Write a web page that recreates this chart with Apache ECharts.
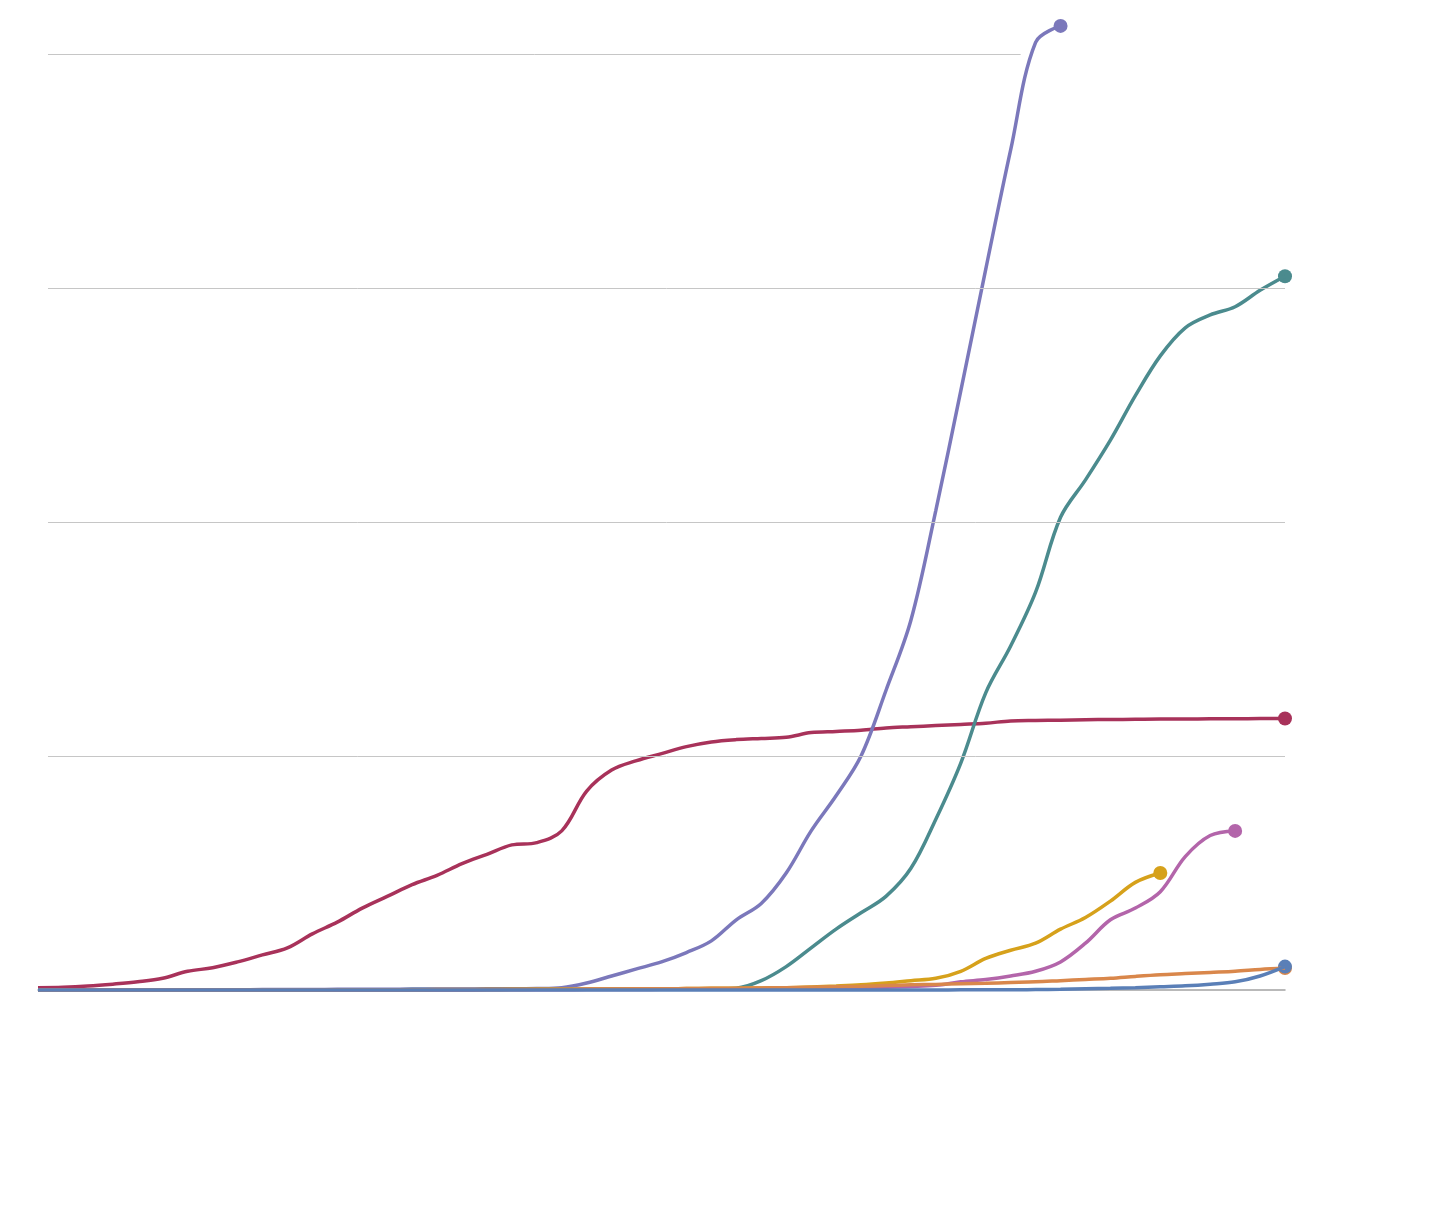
<!DOCTYPE html>
<html>
<head>
<meta charset="utf-8">
<title>Cumulative curves</title>
<script src="https://cdn.jsdelivr.net/npm/echarts@6/dist/echarts.min.js"></script>
<style>
  html, body { margin: 0; padding: 0; background: #fff; }
  #chart { width: 1440px; height: 1232px; }
</style>
</head>
<body>
<div id="chart"></div>
<script>
// x positions: 51 equally spaced steps
var steps = [];
for (var s = 0; s <= 50; s++) steps.push(s);

// gridline levels (y units) and where each one stops
var gridLevels = [1, 2, 3, 4];
var gridEnds = [50, 50, 50, 39.4];

var crimson = [0.01, 0.012, 0.017, 0.025, 0.035, 0.05, 0.08, 0.095, 0.12, 0.15,
  0.18, 0.24, 0.29, 0.35, 0.40, 0.45, 0.49, 0.54, 0.58, 0.62,
  0.63, 0.68, 0.85, 0.94, 0.98, 1.01, 1.04, 1.06, 1.07, 1.075,
  1.08, 1.10, 1.105, 1.11, 1.12, 1.125, 1.13, 1.135, 1.14, 1.15,
  1.152, 1.153, 1.155, 1.156, 1.157, 1.158, 1.158, 1.159, 1.159, 1.16, 1.16];

var purple = [0, 0, 0, 0, 0, 0, 0.001, 0.001, 0.001, 0.002,
  0.002, 0.002, 0.003, 0.003, 0.003, 0.004, 0.004, 0.004, 0.005, 0.005,
  0.006, 0.01, 0.03, 0.06, 0.09, 0.12, 0.16, 0.21, 0.30, 0.37,
  0.50, 0.68, 0.83, 1.0, 1.28, 1.58, 2.05, 2.56, 3.08, 3.59,
  4.05, 4.12, null, null, null, null, null, null, null, null, null];

var teal = [0, 0, 0, 0, 0, 0, 0, 0, 0, 0,
  0, 0.001, 0.001, 0.001, 0.001, 0.002, 0.002, 0.002, 0.002, 0.003,
  0.003, 0.003, 0.003, 0.004, 0.004, 0.004, 0.004, 0.005, 0.008, 0.04,
  0.10, 0.18, 0.26, 0.33, 0.40, 0.52, 0.73, 0.97, 1.27, 1.47,
  1.70, 2.02, 2.18, 2.35, 2.54, 2.71, 2.83, 2.885, 2.92, 2.99, 3.05];

var pink = [0, 0, 0, 0, 0, 0, 0, 0, 0, 0,
  0, 0, 0, 0, 0, 0, 0, 0, 0.001, 0.001,
  0.001, 0.001, 0.002, 0.002, 0.002, 0.003, 0.003, 0.004, 0.004, 0.005,
  0.006, 0.007, 0.008, 0.01, 0.012, 0.015, 0.02, 0.035, 0.045, 0.06,
  0.08, 0.12, 0.20, 0.30, 0.35, 0.42, 0.57, 0.66, 0.68, null, null];

var gold = [0, 0, 0, 0, 0, 0, 0, 0, 0, 0,
  0, 0, 0, 0, 0, 0, 0.001, 0.001, 0.002, 0.002,
  0.003, 0.003, 0.004, 0.004, 0.005, 0.005, 0.006, 0.007, 0.008, 0.009,
  0.01, 0.013, 0.017, 0.022, 0.03, 0.04, 0.05, 0.08, 0.135, 0.17,
  0.20, 0.26, 0.31, 0.38, 0.46, 0.50, null, null, null, null, null];

var orange = [0, 0, 0, 0, 0, 0, 0, 0, 0, 0,
  0, 0, 0.001, 0.001, 0.001, 0.001, 0.002, 0.002, 0.002, 0.003,
  0.003, 0.003, 0.004, 0.004, 0.005, 0.005, 0.006, 0.007, 0.008, 0.009,
  0.01, 0.012, 0.014, 0.016, 0.019, 0.022, 0.024, 0.027, 0.029, 0.032,
  0.035, 0.04, 0.045, 0.05, 0.058, 0.065, 0.07, 0.075, 0.08, 0.088, 0.094];

var blue = [0, 0, 0, 0, 0, 0, 0, 0, 0, 0,
  0, 0, 0, 0, 0, 0, 0, 0, 0, 0,
  0, 0, 0, 0, 0, 0, 0, 0, 0, 0,
  0, 0, 0, 0, 0, 0, 0, 0.001, 0.001, 0.001,
  0.002, 0.003, 0.005, 0.007, 0.01, 0.014, 0.018, 0.025, 0.035, 0.06, 0.10];

var lines = [
  { name: 'crimson', color: '#a8325a', values: crimson },
  { name: 'purple', color: '#7b78bb', values: purple },
  { name: 'teal', color: '#4b8b8e', values: teal },
  { name: 'gold', color: '#d6a11b', values: gold },
  { name: 'pink', color: '#b365aa', values: pink },
  { name: 'orange', color: '#d9874b', values: orange },
  { name: 'blue', color: '#5a7fb7', values: blue }
];

var chartElement = document.getElementById('chart');

function pairs(values) {
  var out = [];
  values.forEach(function (v, i) {
    if (v !== null) out.push([steps[i], v]);
  });
  return out;
}

function renderChart() {
  var seriesArr = [];

  // gridlines drawn under everything
  seriesArr.push({
    type: 'line',
    data: [],
    silent: true,
    markLine: {
      silent: true,
      symbol: 'none',
      label: { show: false },
      lineStyle: { color: '#c6c6c6', width: 1, type: 'solid' },
      data: gridLevels.map(function (lv, i) {
        return [{ coord: [0.4, lv] }, { coord: [gridEnds[i], lv] }];
      })
    }
  });

  lines.forEach(function (item) {
    seriesArr.push({
      name: item.name,
      type: 'line',
      data: pairs(item.values),
      smooth: 0.35,
      showSymbol: false,
      clip: false,
      lineStyle: { color: item.color, width: 3.5 },
      itemStyle: { color: item.color }
    });
  });

  // end dots
  lines.forEach(function (item) {
    var p = pairs(item.values);
    seriesArr.push({
      name: item.name + '-end',
      type: 'scatter',
      data: [p[p.length - 1]],
      symbolSize: 14,
      clip: false,
      itemStyle: { color: item.color, opacity: 1 }
    });
  });

  var option = {
    animation: false,
    backgroundColor: '#fff',
    grid: { left: 38, right: 155, top: 54, bottom: 242 },
    xAxis: {
      type: 'value',
      min: 0,
      max: 50,
      axisLine: { show: true, lineStyle: { color: '#a3a3a3', width: 1.5 } },
      axisTick: { show: false },
      axisLabel: { show: false },
      splitLine: { show: false }
    },
    yAxis: {
      type: 'value',
      min: 0,
      max: 4,
      interval: 1,
      axisLine: { show: false },
      axisTick: { show: false },
      axisLabel: { show: false },
      splitLine: { show: false }
    },
    series: seriesArr
  };

  var myChart = echarts.init(chartElement);
  myChart.setOption(option);
}

renderChart();
</script>
</body>
</html>
